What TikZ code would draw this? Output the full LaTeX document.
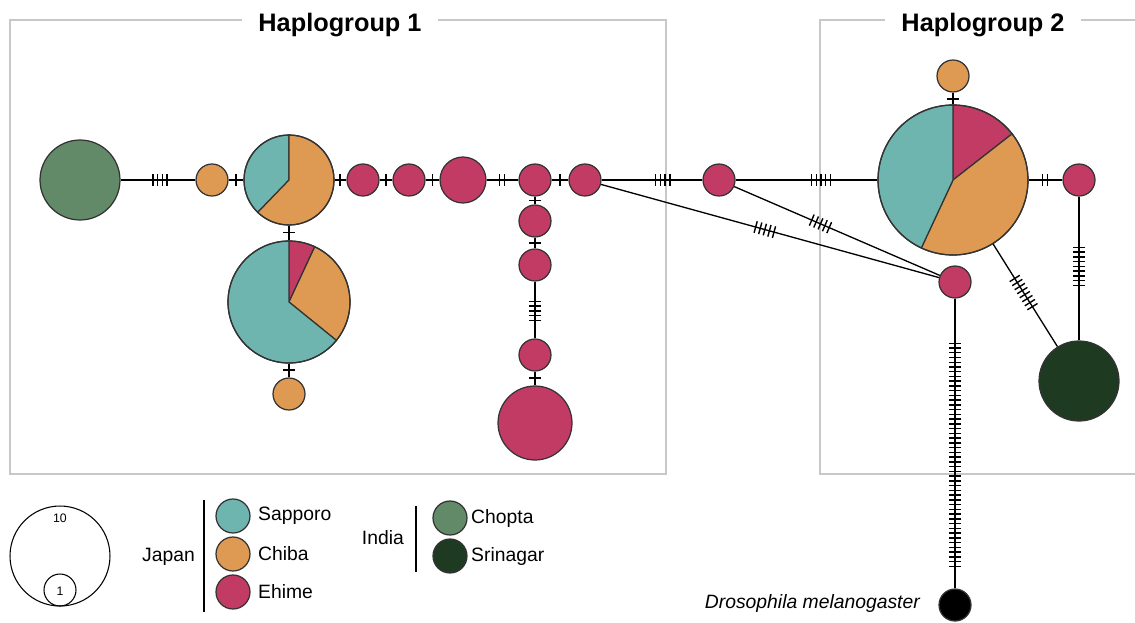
\documentclass[tikz,border=0pt]{standalone}
\usepackage{fontspec}
\setmainfont{Liberation Sans}
\usetikzlibrary{calc}
\definecolor{cSap}{HTML}{6DB5AE}
\definecolor{cChi}{HTML}{DE9A52}
\definecolor{cEhi}{HTML}{C23B65}
\definecolor{cCho}{HTML}{628A69}
\definecolor{cSri}{HTML}{1E3B22}
\definecolor{cLine}{HTML}{333333}
\definecolor{cFrame}{HTML}{C8C8C8}
% one pie slice: centre, radius, start, end, colour
\newcommand{\pieslc}[5]{\filldraw[fill=#5,draw=cLine,line width=0.7pt]
  #1 -- ++(#3:#2) arc[start angle=#3,end angle=#4,radius=#2] -- cycle;}
% mutation ticks: from node, to node, count, position
\newcommand{\muts}[4]{%
  \foreach \k in {1,...,#3}{%
    \coordinate (tc) at ($(#1)!#4!(#2)$);
    \coordinate (tk) at ($(tc)!{(\k-(#3+1)/2)*0.095cm}!(#2)$);
    \draw[tickmark] ($(tk)!0.12cm!90:(#2)$) -- ($(tk)!0.12cm!-90:(#2)$);
  }}
\tikzset{
  hap/.style={circle,draw=cLine,line width=0.7pt,inner sep=0pt,minimum size=#1},
  edge/.style={line width=0.75pt,draw=black},
  tickmark/.style={line width=0.8pt,draw=black},
  frame/.style={line width=1.2pt,draw=cFrame},
  title/.style={fill=white,inner xsep=0.32cm,font=\fontsize{14.4}{16}\selectfont\bfseries},
  lbl/.style={font=\fontsize{11}{13}\selectfont},
  bar/.style={line width=1.1pt,draw=black},
}

\begin{document}
\begin{tikzpicture}[x=0.02cm,y=-0.02cm]
\useasboundingbox (0,0) rectangle (1135,622);

% ---------------------------------------------------------------- FRAMES
\draw[frame] (10,20) rectangle (666,474);
\draw[frame] (1135,20) -- (820,20) -- (820,474) -- (1135,474);
\node[title] (h1) at (340,25) {Haplogroup 1};
\node[title] (h2) at (983,25) {Haplogroup 2};

% ---------------------------------------------------------------- HAPLOGROUP 1
\node[hap=1.6cm,fill=cCho] (chopta) at (80,180) {};
\node[hap=0.64cm,fill=cChi] (o1) at (212,180) {};
\pieslc{(289,180)}{0.9cm}{90}{226}{cSap}
\pieslc{(289,180)}{0.9cm}{226}{450}{cChi}
\node[hap=1.8cm] (p1) at (289,180) {};
\pieslc{(289,302)}{1.22cm}{65}{90}{cEhi}
\pieslc{(289,302)}{1.22cm}{-39}{65}{cChi}
\pieslc{(289,302)}{1.22cm}{90}{321}{cSap}
\node[hap=2.44cm] (p2) at (289,302) {};
\node[hap=0.64cm,fill=cChi] (o2) at (289,394) {};
\node[hap=0.64cm,fill=cEhi] (e1) at (363,180) {};
\node[hap=0.64cm,fill=cEhi] (e2) at (409,180) {};
\node[hap=0.92cm,fill=cEhi] (e3) at (463,180) {};
\node[hap=0.64cm,fill=cEhi] (e4) at (535,180) {};
\node[hap=0.64cm,fill=cEhi] (e5) at (585,180) {};
\node[hap=0.64cm,fill=cEhi] (e6) at (719,180) {};
\node[hap=0.64cm,fill=cEhi] (e7) at (535,221) {};
\node[hap=0.64cm,fill=cEhi] (e8) at (535,265) {};
\node[hap=0.64cm,fill=cEhi] (e9) at (535,355) {};
\node[hap=1.48cm,fill=cEhi] (e10) at (535,423) {};

% ---------------------------------------------------------------- HAPLOGROUP 2
\pieslc{(953,180)}{1.5cm}{38}{90}{cEhi}
\pieslc{(953,180)}{1.5cm}{-115}{38}{cChi}
\pieslc{(953,180)}{1.5cm}{90}{245}{cSap}
\node[hap=3cm] (p3) at (953,180) {};
\node[hap=0.64cm,fill=cChi] (o3) at (953,76) {};
\node[hap=0.64cm,fill=cEhi] (e11) at (1079,180) {};
\node[hap=0.64cm,fill=cEhi] (hub) at (955,282) {};
\node[hap=1.6cm,fill=cSri] (srin) at (1079,381) {};
\node[hap=0.64cm,fill=black] (dmel) at (955,605) {};
\node[lbl,anchor=east,font=\fontsize{11}{13}\selectfont\itshape] (dmlab) at (926,603) {Drosophila melanogaster};

% ---------------------------------------------------------------- edges
\draw[edge] (chopta) -- (o1); \muts{chopta}{o1}{4}{0.606}
\draw[edge] (o1) -- (p1);     \muts{o1}{p1}{1}{0.31}
\draw[edge] (p1) -- (e1);     \muts{p1}{e1}{1}{0.69}
\draw[edge] (e1) -- (e2);     \muts{e1}{e2}{1}{0.5}
\draw[edge] (e2) -- (e3);     \muts{e2}{e3}{1}{0.43}
\draw[edge] (e3) -- (e4);     \muts{e3}{e4}{2}{0.54}
\draw[edge] (e4) -- (e5);     \muts{e4}{e5}{1}{0.5}
\draw[edge] (e5) -- (e6);     \muts{e5}{e6}{4}{0.58}
\draw[edge] (e6) -- (p3);     \muts{e6}{p3}{5}{0.436}
\draw[edge] (e5) -- (hub);    \muts{e5}{hub}{5}{0.486}
\draw[edge] (e6) -- (hub);    \muts{e6}{hub}{5}{0.43}
\draw[edge] (p1) -- (p2);     \muts{p1}{p2}{1}{0.43}
\draw[edge] (p2) -- (o2);     \muts{p2}{o2}{1}{0.74}
\draw[edge] (e4) -- (e7);     \muts{e4}{e7}{1}{0.5}
\draw[edge] (e7) -- (e8);     \muts{e7}{e8}{1}{0.5}
\draw[edge] (e8) -- (e9);     \muts{e8}{e9}{5}{0.51}
\draw[edge] (e9) -- (e10);    \muts{e9}{e10}{1}{0.34}
\draw[edge] (p3) -- (o3);     \muts{p3}{o3}{1}{0.78}
\draw[edge] (p3) -- (e11);    \muts{p3}{e11}{2}{0.73}
\draw[edge] (e11) -- (srin);  \muts{e11}{srin}{9}{0.43}
\draw[edge] (p3) -- (srin);   \muts{p3}{srin}{8}{0.56}
\draw[edge] (hub) -- (dmel);  \muts{hub}{dmel}{48}{0.535}

% ---------------------------------------------------------------- legend
\node[hap=2cm,draw=black,line width=0.6pt] (big) at (60,556) {};
\node[hap=0.64cm,draw=black,line width=0.6pt] (small) at (60,590) {};
\node[font=\fontsize{7}{8}\selectfont] (n10) at (60,518) {10};
\node[font=\fontsize{7}{8}\selectfont] (n1) at (60,591) {1};

\draw[bar] (204,500) -- (204,612);
\node[lbl,anchor=east] (japan) at (201,557) {Japan};
\node[hap=0.68cm,fill=cSap] (lsap) at (233,516) {};
\node[hap=0.68cm,fill=cChi] (lchi) at (233,554) {};
\node[hap=0.68cm,fill=cEhi] (lehi) at (233,592) {};
\node[lbl,anchor=west] at (252,516) {Sapporo};
\node[lbl,anchor=west] at (252,554) {Chiba};
\node[lbl,anchor=west] at (252,592) {Ehime};

\draw[bar] (416,506) -- (416,572);
\node[lbl,anchor=east] (india) at (410,538) {India};
\node[hap=0.68cm,fill=cCho] (lcho) at (450,518) {};
\node[hap=0.68cm,fill=cSri] (lsri) at (450,556) {};
\node[lbl,anchor=west] at (465,518) {Chopta};
\node[lbl,anchor=west] at (465,556) {Srinagar};

\end{tikzpicture}
\end{document}
